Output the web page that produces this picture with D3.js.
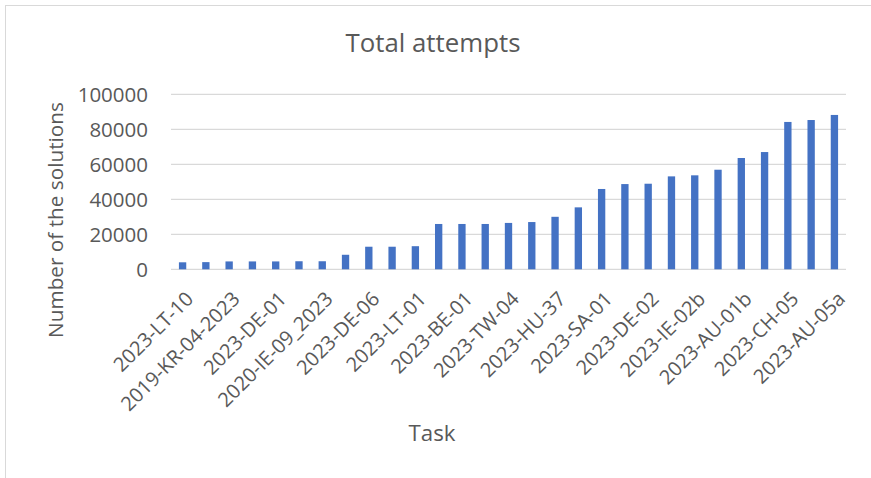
<!DOCTYPE html>
<html><head><meta charset="utf-8">
<script src="https://cdn.jsdelivr.net/npm/d3@7"></script>
<style>
html,body{margin:0;padding:0;background:#fff;}
text{font-family:"Open Sans",sans-serif;fill:#595959;}
</style></head>
<body>
<svg id="c" width="871" height="478"></svg>
<script>
const tickLabels = ["2023-LT-10","2019-KR-04-2023","2023-DE-01","2020-IE-09_2023","2023-DE-06","2023-LT-01","2023-BE-01","2023-TW-04","2023-HU-37","2023-SA-01","2023-DE-02","2023-IE-02b","2023-AU-01b","2023-CH-05","2023-AU-05a"];
const values = [4000,4100,4500,4500,4500,4600,4600,8300,12900,12900,13200,25900,25900,25900,26500,27000,30000,35400,45900,48700,48900,53100,53700,56900,63600,67000,84200,85300,88200];
const yTicks = [0,20000,40000,60000,80000,100000];
const title = "Total attempts";
const xTitle = "Task";
const yTitle = "Number of the solutions";

const svg = d3.select("#c");
svg.append("rect").attr("x",5.5).attr("y",5.5).attr("width",900).attr("height",900)
  .attr("fill","#fff").attr("stroke","#d9d9d9").attr("stroke-width",1);

const m = {l:171, r:846, t:94.3, b:269.3};
const x = d3.scaleBand().domain(d3.range(values.length)).range([m.l,m.r]).paddingInner(0.685).paddingOuter(0.34);
const y = d3.scaleLinear().domain([0,100000]).range([m.b,m.t]);

function fit(sel, w){
  const t = sel.node(); let fs = parseFloat(sel.attr("font-size"));
  const len = t.getComputedTextLength(); sel.attr("font-size", fs*w/len);
}

// gridlines
svg.append("g").selectAll("line").data(yTicks).join("line")
  .attr("x1",m.l).attr("x2",m.r).attr("y1",d=>y(d)).attr("y2",d=>y(d))
  .attr("stroke","#d9d9d9").attr("stroke-width",1.3);

// y tick labels
const yAxis = svg.append("g").attr("transform",`translate(${m.l},0)`)
  .call(d3.axisLeft(y).tickValues(yTicks).tickSize(0).tickPadding(23).tickFormat(d3.format("d")));
yAxis.select(".domain").remove();
yAxis.selectAll("text").attr("font-size",20.5).attr("fill","#595959").attr("font-family","Open Sans").attr("dy","0.35em");

// bars
svg.append("g").selectAll("rect").data(values).join("rect")
  .attr("x",(d,i)=>x(i)).attr("width",x.bandwidth())
  .attr("y",d=>y(d)).attr("height",d=>y(0)-y(d)).attr("fill","#4472C4");

// x labels
const xg = svg.append("g");
tickLabels.forEach((lab,k)=>{
  const i = k*2;
  const cx = x(i)+x.bandwidth()/2;
  xg.append("text").attr("transform",`translate(${cx+7},${y(0)+26}) rotate(-45)`)
    .attr("text-anchor","end").attr("dy","0.35em").attr("font-size",20).text(lab);
});

const tt = svg.append("text").attr("x",433).attr("y",52).attr("text-anchor","middle").attr("font-size",24).text(title);
fit(tt,175);
const xt = svg.append("text").attr("x",432).attr("y",441).attr("text-anchor","middle").attr("font-size",22).text(xTitle);
fit(xt,47);
const yt = svg.append("text").attr("transform","translate(63,220) rotate(-90)").attr("text-anchor","middle").attr("font-size",22).text(yTitle);
fit(yt,236);
</script>
</body></html>
